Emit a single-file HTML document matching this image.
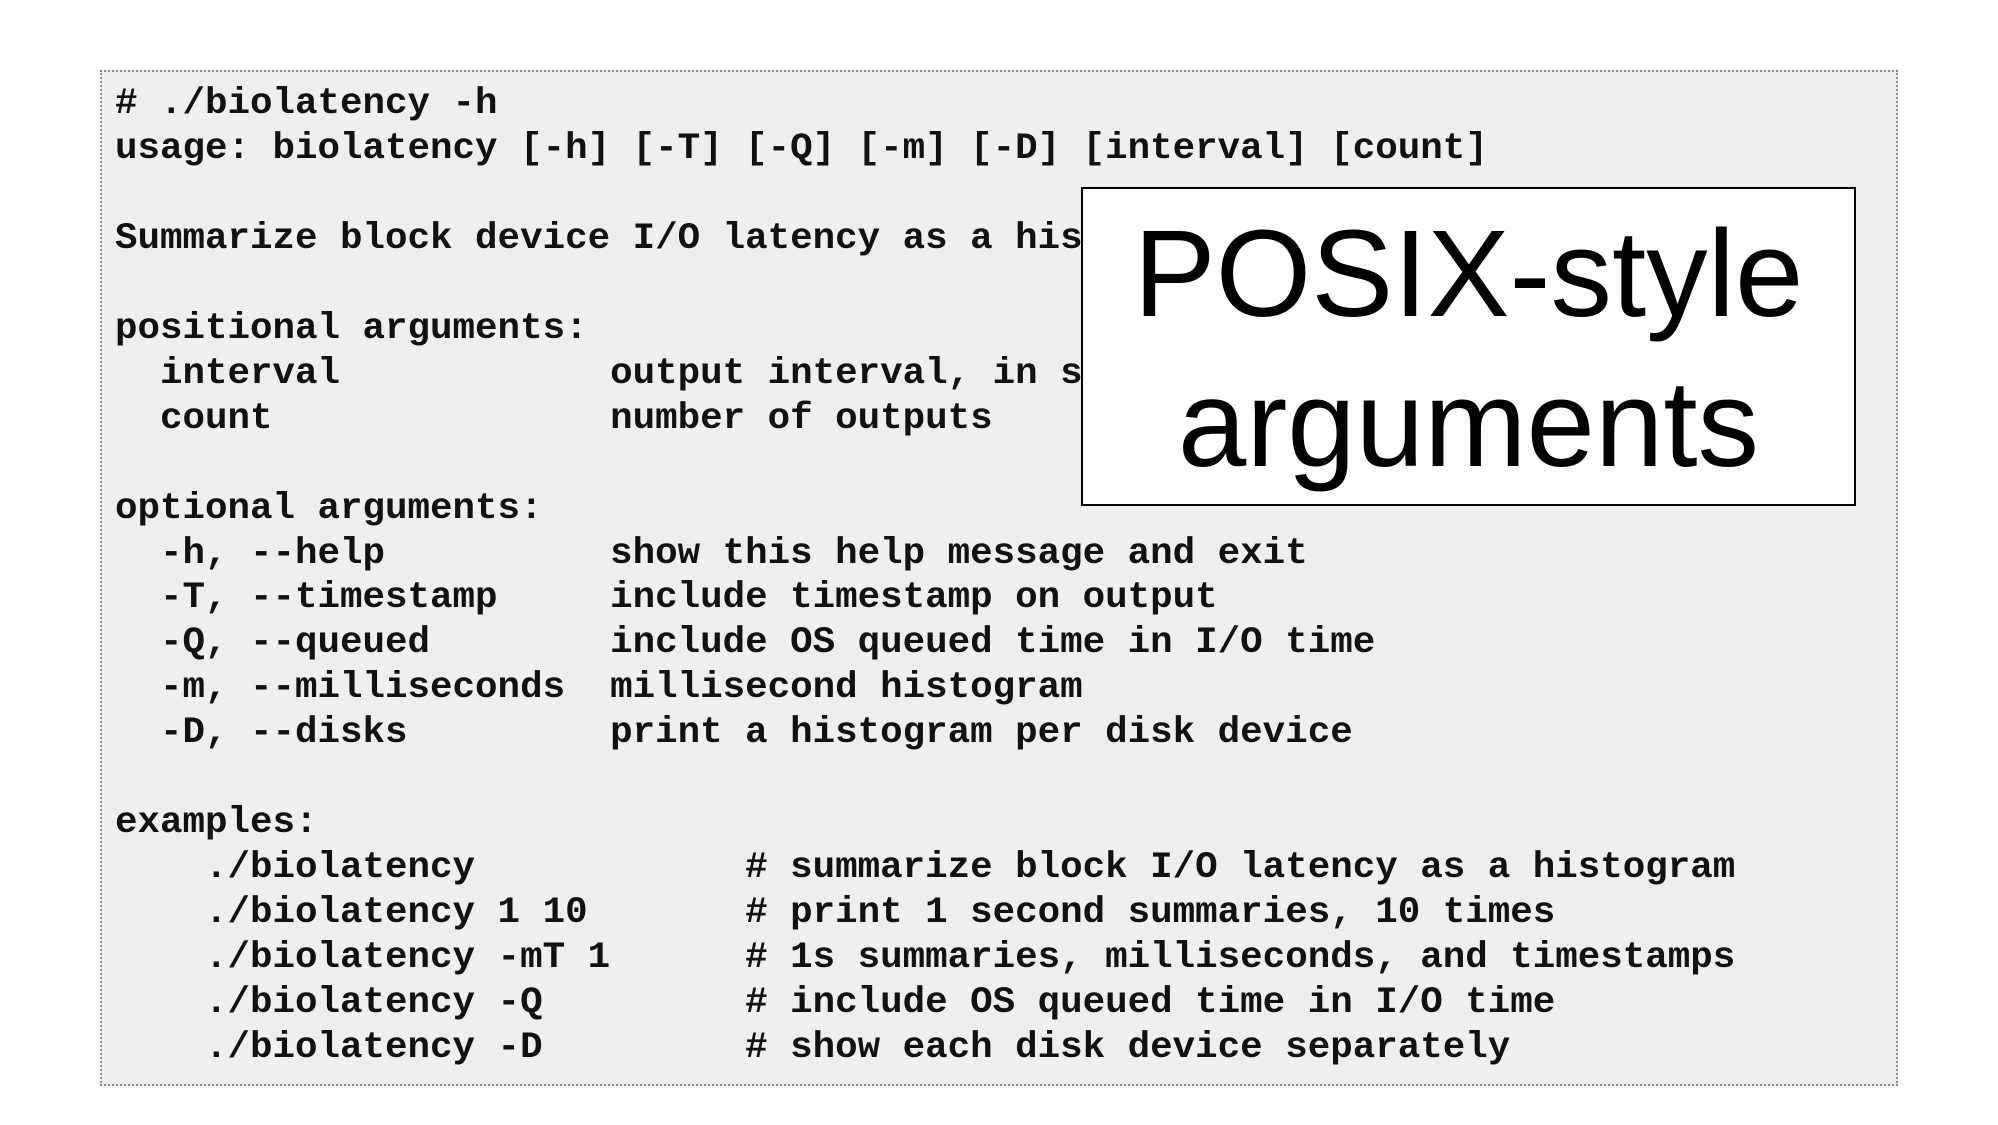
<!DOCTYPE html>
<html><head><meta charset="utf-8"><style>
html,body{margin:0;padding:0;background:#fff;width:1998px;height:1125px;overflow:hidden;position:relative}
#box{position:absolute;left:100px;top:70px;width:1798px;height:1016px;background:#efefef;border:2px dotted #888;box-sizing:border-box}
pre{position:absolute;left:115px;top:0;margin:0;font-family:"Liberation Mono",monospace;font-weight:bold;font-size:37.5px;line-height:44.95px;color:#111}
#title{position:absolute;left:1081px;top:187px;width:775px;height:319px;background:#fff;border:2px solid #000;box-sizing:border-box}
.t{position:absolute;left:0;width:100%;text-align:center;font-family:"Liberation Sans",sans-serif;font-size:123px;line-height:1;color:#000}
</style></head><body>
<div id="box"></div>
<pre style="top:82px"># ./biolatency -h
usage: biolatency [-h] [-T] [-Q] [-m] [-D] [interval] [count]

Summarize block device I/O latency as a histogram

positional arguments:
  interval            output interval, in seconds
  count               number of outputs

optional arguments:
  -h, --help          show this help message and exit
  -T, --timestamp     include timestamp on output
  -Q, --queued        include OS queued time in I/O time
  -m, --milliseconds  millisecond histogram
  -D, --disks         print a histogram per disk device

examples:
    ./biolatency            # summarize block I/O latency as a histogram
    ./biolatency 1 10       # print 1 second summaries, 10 times
    ./biolatency -mT 1      # 1s summaries, milliseconds, and timestamps
    ./biolatency -Q         # include OS queued time in I/O time
    ./biolatency -D         # show each disk device separately</pre>
<div id="title">
<div class="t" style="top:24px">POSIX-style</div>
<div class="t" style="top:174px">arguments</div>
</div>
</body></html>
